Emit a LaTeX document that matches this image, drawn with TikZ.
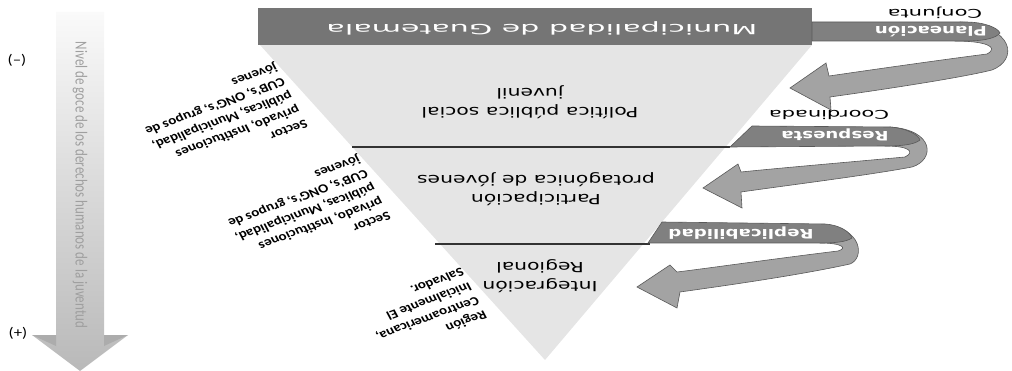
\documentclass[tikz,border=0pt]{standalone}
\usepackage{fontspec}
\newfontfamily\dvf{DejaVu Sans}
\newfontfamily\clf{Carlito}
\definecolor{cbanner}{gray}{0.46}
\definecolor{ctri}{gray}{0.9}
\definecolor{cribtop}{gray}{0.5}
\definecolor{cribback}{gray}{0.64}
\definecolor{cribedge}{gray}{0.35}
\begin{document}
\begin{tikzpicture}[x=1pt,y=-1pt,
  tritext/.style={font=\dvf\fontsize{14}{19}\selectfont, align=center, xscale=1.45, rotate=180, inner sep=0pt},
  ribtext/.style={font=\dvf\bfseries\fontsize{13}{15}\selectfont, text=white, xscale=1.4, rotate=180, inner sep=0pt},
  ribblack/.style={font=\dvf\fontsize{12}{14}\selectfont, xscale=1.75, rotate=180, inner sep=0pt},
  sidelabel/.style={font=\clf\bfseries\fontsize{12.5}{15.5}\selectfont, align=left, xscale=1.2, rotate=204, inner sep=0pt},
  ribb/.style={fill=cribback, draw=cribedge, line width=0.6pt},
  ribf/.style={fill=cribtop, draw=cribedge, line width=0.6pt},
  sepline/.style={line width=1.3pt, black!80}]
\useasboundingbox (0,0) rectangle (1012,371);

% left arrow
\shade[top color=gray!4, bottom color=gray!55] (56,12) -- (104,12) -- (104,335) -- (128,335) -- (80,371) -- (32,335) -- (56,335) -- cycle;
\fill[gray!65] (32,335) -- (56,335) -- (56,346) -- cycle;
\fill[gray!65] (104,335) -- (128,335) -- (104,346) -- cycle;
\node[font=\clf\fontsize{13}{15}\selectfont, text=gray!75, xscale=1.3, rotate=-90, inner sep=0pt] (nivel) at (80,185) {Nivel de goce de los derechos humanos de la juventud};
\node[font=\clf\fontsize{14}{16}\selectfont, xscale=1.2] (menos) at (17,60) {(–)};
\node[font=\clf\fontsize{14}{16}\selectfont, xscale=1.2] (mas) at (18,333) {(+)};

% triangle and banner
\fill[ctri] (260,45) -- (812,45) -- (545,360) -- cycle;
\fill[cbanner] (258,8) rectangle (812,45);
\node[font=\dvf\fontsize{14}{16}\selectfont, text=white, xscale=2.15, rotate=180, inner sep=0pt] (muni) at (542,28) {Municipalidad de Guatemala};
\draw[sepline] (352,147) -- (730,147);
\draw[sepline] (435,244) -- (650,244);

\node[tritext] (pol) at (530,102) {Política pública social\\juvenil};
\node[tritext] (part) at (536,189) {Participación\\protagónica de jóvenes};
\node[tritext] (integ) at (540,276) {Integración\\Regional};

% side labels
\node[sidelabel] (g1) at (222,120) {Sector\\privado, Instituciones\\públicas, Municipalidad,\\CUB's, ONG's, grupos de\\jóvenes};
\node[sidelabel] (g2) at (305,212) {Sector\\privado, Instituciones\\públicas, Municipalidad,\\CUB's, ONG's, grupos de\\jóvenes};
\node[sidelabel] (g3) at (424,312) {Región\\Centroamericana,\\Inicialmente El\\Salvador.};

% ribbon 1
\path[ribb] (955,41) .. controls (985,41) and (1000,47) .. (987,54)
  .. controls (940,60) and (870,70) .. (829,76) -- (826,63) -- (790,88) -- (831,110) -- (830,97)
  .. controls (880,90) and (960,78) .. (992,70)
  .. controls (1018,60) and (1015,27) .. (960,22) -- cycle;
\path[ribf] (812,22) -- (965,22) .. controls (985,22) and (998,28) .. (1000,33)
  .. controls (996,38) and (985,41) .. (965,41) -- (812,41) -- cycle;
% ribbon 2
\path[ribb] (885,146) .. controls (910,146) and (915,152) .. (905,157)
  .. controls (850,162) and (780,168) .. (741,172) -- (738,164) -- (703,188) -- (742,208) -- (741,192)
  .. controls (790,185) and (870,175) .. (912,167)
  .. controls (935,160) and (935,130) .. (890,127) -- cycle;
\path[ribf] (730,147) -- (752,126) -- (890,127) .. controls (905,128) and (918,134) .. (920,140)
  .. controls (914,145) and (900,146) .. (885,146) -- cycle;
% ribbon 3
\path[ribb] (820,243) .. controls (842,243) and (848,248) .. (838,251)
  .. controls (780,258) and (710,268) .. (677,272) -- (670,265) -- (637,287) -- (677,308) -- (680,292)
  .. controls (730,285) and (800,275) .. (850,264)
  .. controls (865,258) and (862,228) .. (825,225) -- cycle;
\path[ribf] (648,243) -- (662,222) -- (825,224) .. controls (840,225) and (850,232) .. (852,238)
  .. controls (846,242) and (835,243) .. (820,243) -- cycle;

\node[ribblack] (conj) at (935,13) {Conjunta};
\node[ribtext] (plan) at (931,32) {Planeación};
\node[ribblack] (coord) at (829,115) {Coordinada};
\node[ribtext] (resp) at (835,135) {Respuesta};
\node[ribtext] (repl) at (741,233) {Replicabilidad};
\end{tikzpicture}
\end{document}
